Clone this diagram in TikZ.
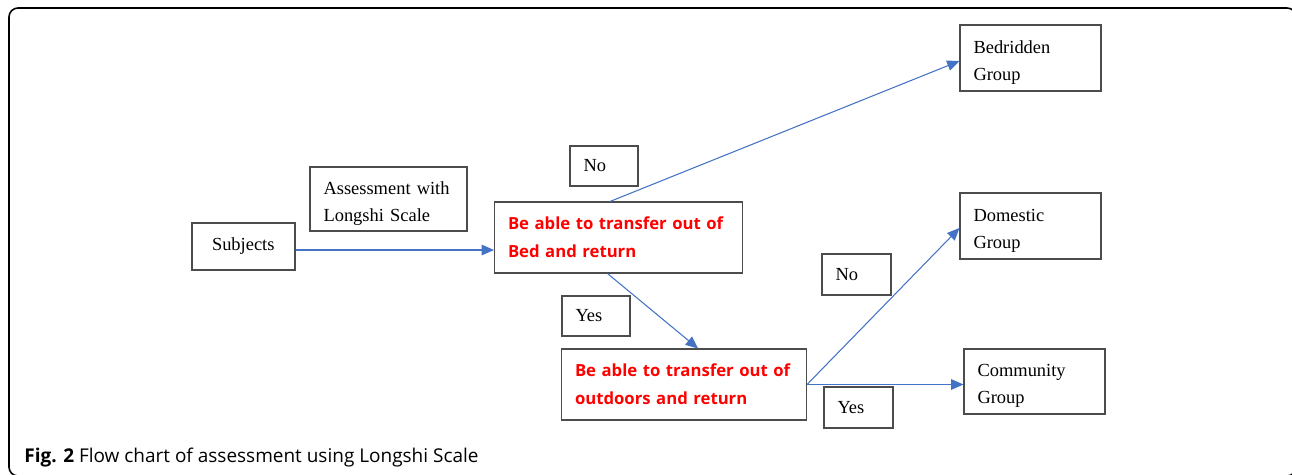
\documentclass[tikz,border=0pt]{standalone}
\usepackage{fontspec}
\setmainfont{Liberation Serif}
\newfontfamily\capfont{Open Sans}
\usetikzlibrary{arrows.meta}
\definecolor{linkblue}{RGB}{68,114,196}
\begin{document}
\begin{tikzpicture}[x=0.2mm, y=-0.2mm,
    box/.style={draw=black!70, line width=0.6pt, inner xsep=2.7mm, align=left,
                font={\fontsize{10.5}{15.4}\selectfont}},
    twoline/.style={box, execute at begin node={\rule{0pt}{12pt}}},
    redbox/.style={box, text=red, font={\capfont\bfseries\fontsize{9.5}{16}\selectfont}},
    link/.style={draw=linkblue, line width=0.6pt, -{Triangle[length=7pt, width=6pt]}}]
    \useasboundingbox (0,0) rectangle (1292,474);
    \begin{scope}
        \clip (0,0) rectangle (1292,474);
        \draw[line width=0.9pt, rounded corners=1.8mm] (9,8) rectangle (1296,476);
    \end{scope}
    % boxes
    \node[box, inner xsep=4mm, text width=12.6mm, minimum height=9.4mm] (subj) at (243.5,246.5) {Subjects};
    \node[twoline, text width=26mm, minimum height=12.8mm] (assess) at (388.5,199) {Assessment with\\Longshi Scale};
    \node[redbox, text width=44.2mm, minimum height=14.2mm] (bed) at (618.5,237.5) {Be able to transfer out of\\Bed and return};
    \node[redbox, text width=43.6mm, minimum height=14.2mm] (out) at (684,384.5) {Be able to transfer out of\\outdoors and return};
    \node[twoline, text width=22.8mm, minimum height=13.2mm] (bedr) at (1030.5,58) {Bedridden\\Group};
    \node[twoline, text width=22.8mm, minimum height=13.2mm] (dom) at (1030.5,226) {Domestic\\Group};
    \node[twoline, text width=22.8mm, minimum height=13mm] (comm) at (1034.5,381.5) {Community\\Group};
    % answers
    \node[box, text width=8.2mm, minimum height=8mm] (noA) at (604,166) {No};
    \node[box, text width=8.2mm, minimum height=8mm] (yesA) at (596,316) {Yes};
    \node[box, text width=8.4mm, minimum height=8.2mm] (noB) at (856.5,274.5) {No};
    \node[box, text width=8.4mm, minimum height=8.2mm] (yesB) at (858.5,407.5) {Yes};
    % arrows
    \draw[link] ([yshift=-0.7mm]subj.east) -- ([yshift=-0.7mm]subj.east -| bed.west);
    \draw[link] ([xshift=-1.7mm]bed.north) -- ([yshift=-0.6mm]bedr.west);
    \draw[link] ([xshift=-2.2mm]bed.south) -- ([xshift=2.8mm]out.north);
    \draw[link] (out.east) -- ([yshift=-0.4mm]dom.west);
    \draw[link] (out.east) -- (out.east -| comm.west);
    \node[anchor=base west, inner sep=0pt, font={\capfont\fontsize{10.8}{14}\selectfont}] (cap) at (24,462)
        {\textbf{Fig. 2} Flow chart of assessment using Longshi Scale};
\end{tikzpicture}
\end{document}
